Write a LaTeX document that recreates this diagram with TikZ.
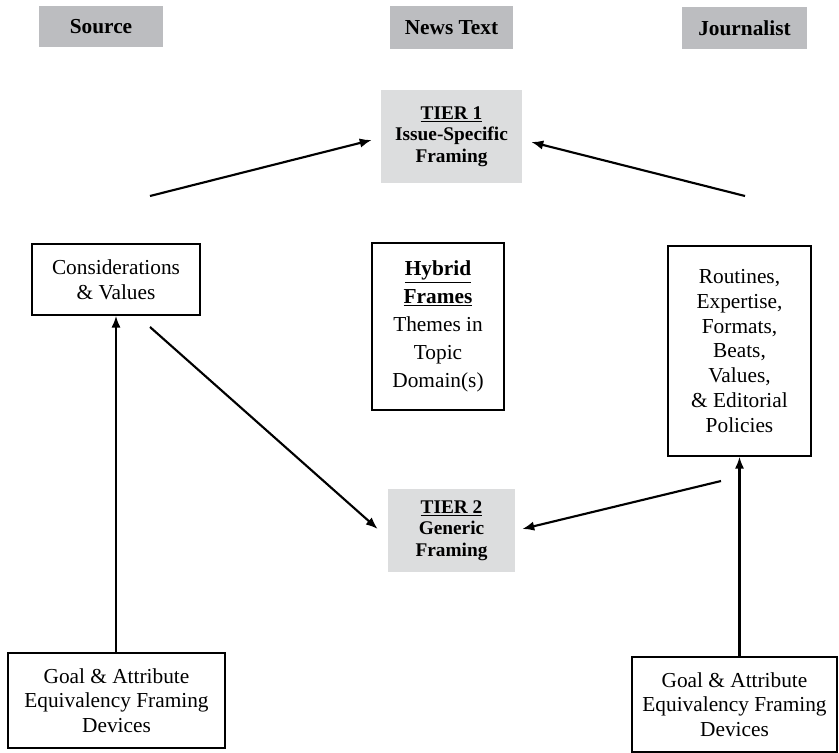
\documentclass[tikz,border=0pt]{standalone}
\usepackage{fontspec}
\setmainfont{Liberation Serif}
\usepackage{xcolor}
\usetikzlibrary{arrows.meta,calc}

\definecolor{hdrgray}{RGB}{188,189,192}
\definecolor{tiergray}{RGB}{220,221,222}

\begin{document}
\begin{tikzpicture}[x=0.75pt,y=0.75pt,yscale=-1,xscale=1,
    header/.style={fill=hdrgray,inner sep=1pt,font=\fontsize{16}{18}\selectfont\bfseries},
    tierbox/.style={fill=tiergray,inner sep=1pt,align=center,font=\fontsize{14.5}{16}\selectfont\bfseries},
    framebox/.style={draw=black,line width=1.1pt,inner sep=2pt,align=center,font=\fontsize{16}{18.6}\selectfont},
    link/.style={line width=1.6pt,-{Latex[length=9pt,width=7pt]}}]
            \useasboundingbox (0,0) rectangle (839,753);

            % Text Node
            \draw (101,26.5) node [header,minimum width=93pt,minimum height=30.75pt] (src) {Source};
            % Text Node
            \draw (451.5,27.5) node [header,minimum width=92.25pt,minimum height=32.25pt] (news) {News Text};
            % Text Node
            \draw (744.5,28) node [header,minimum width=93.75pt,minimum height=31.5pt] (jour) {Journalist};

            % Text Node
            \draw (451.5,136.5) node [tierbox,minimum width=105.75pt,minimum height=69.75pt] (tierone) {\underline{TIER 1}\\Issue-Specific\\Framing};
            % Text Node
            \draw (451.5,530.5) node [tierbox,minimum width=95.25pt,minimum height=62.25pt] (tiertwo) {\underline{TIER 2}\\Generic\\Framing};

            % Text Node
            \draw (116,279.5) node [framebox,minimum width=126pt,minimum height=53.25pt] (consid) {Considerations\\\& Values};
            % Text Node
            \draw (438,326.5) node [framebox,minimum width=99pt,minimum height=125.25pt,font=\fontsize{16}{21}\selectfont] (hybrid) {\textbf{\underline{Hybrid}}\\\textbf{\underline{Frames}}\\Themes in\\Topic\\Domain(s)};
            % Text Node
            \draw (739.5,351) node [framebox,minimum width=107.25pt,minimum height=157.5pt] (routines) {Routines,\\Expertise,\\Formats,\\Beats,\\Values,\\\& Editorial\\Policies};
            % Text Node
            \draw (116.5,700.5) node [framebox,minimum width=162.75pt,minimum height=71.25pt] (goalsrc) {Goal \& Attribute\\Equivalency Framing\\Devices};
            % Text Node
            \draw (734.5,704.5) node [framebox,minimum width=153.75pt,minimum height=71.25pt] (goaljour) {Goal \& Attribute\\Equivalency Framing\\Devices};

            % free ends of the slanted arrows
            \coordinate (srcout) at (150,196);
            \coordinate (jourout) at (745,196);
            \coordinate (considout) at (150,327);
            \coordinate (routout) at (721,481);

            %Straight Lines
            \draw [link] (srcout) -- ($(tierone.west)+(-9,3.5)$);
            \draw [link] (jourout) -- ($(tierone.east)+(9,5.5)$);
            \draw [link] (considout) -- ($(tiertwo.west)+(-10,-1.5)$);
            \draw [link] (routout) -- ($(tiertwo.east)+(7,-1.5)$);
            %Straight Lines
            \draw [link] (goalsrc.north -| consid.south) -- (consid.south);
            \draw [link] (goaljour.north -| routines.south) -- (routines.south);

\end{tikzpicture}
\end{document}
